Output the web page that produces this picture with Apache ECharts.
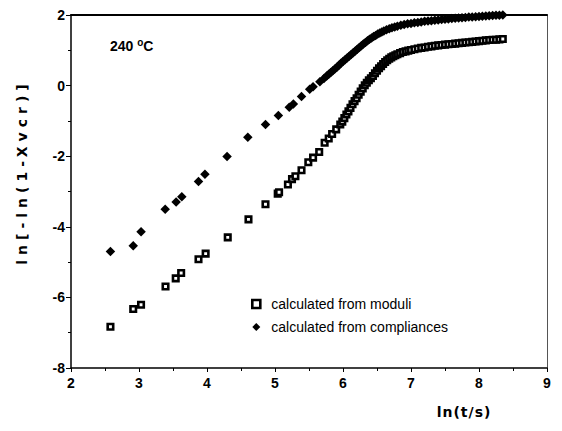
<!DOCTYPE html>
<html><head><meta charset="utf-8">
<script src="https://cdn.jsdelivr.net/npm/echarts@6/dist/echarts.min.js"></script>
<style>html,body{margin:0;padding:0;background:#fff}#c{width:562px;height:431px}</style>
</head><body><div id="c"></div>
<script>
const xTicks = [2,3,4,5,6,7,8,9];
const yTicks = [-8,-6,-4,-2,0,2];
const moduliX = [2.58,2.915,3.03,3.39,3.54,3.62,3.875,3.98,4.305,4.61,4.86,5.04,5.06,5.19,5.25,5.30,5.39,5.49,5.56,5.65,5.73,5.79,5.84,5.90,5.96,
  5.99,6.02,6.05,6.08,6.11,6.14,6.17,6.20,6.23,6.26,6.29,6.32,6.35,6.38,6.41,6.44,6.47,6.50,6.53,6.56,6.59,6.62,6.65,6.68,6.71,6.74,6.77,6.80,
  6.84,6.88,6.92,6.96,7.00,7.05,7.10,7.15,7.20,7.25,7.30,7.35,7.40,7.45,7.50,7.55,7.60,7.65,7.70,7.75,7.80,7.85,7.90,7.95,8.00,8.05,8.10,8.15,8.20,8.25,8.30,8.35];
const moduliY = [-6.83,-6.33,-6.21,-5.69,-5.46,-5.31,-4.92,-4.76,-4.30,-3.79,-3.36,-3.06,-3.02,-2.80,-2.65,-2.57,-2.40,-2.17,-2.04,-1.88,-1.62,-1.50,-1.37,-1.24,-1.10,
  -1.02,-0.92,-0.82,-0.73,-0.63,-0.53,-0.44,-0.36,-0.26,-0.17,-0.08,0.01,0.08,0.15,0.21,0.27,0.35,0.42,0.49,0.55,0.61,0.67,0.72,0.76,0.80,0.83,0.86,0.89,
  0.92,0.95,0.97,0.99,1.01,1.03,1.05,1.07,1.08,1.10,1.11,1.13,1.14,1.15,1.16,1.17,1.18,1.19,1.20,1.21,1.22,1.23,1.24,1.25,1.26,1.27,1.28,1.29,1.30,1.30,1.31,1.32];
const compX = [2.58,2.915,3.03,3.385,3.546,3.63,3.875,3.97,4.295,4.60,4.86,5.05,5.21,5.27,5.39,5.51,5.56,5.66,5.72,5.76,
  5.79,5.82,5.85,5.88,5.91,5.94,5.97,6.00,6.03,6.06,6.09,6.12,6.15,6.18,6.21,6.24,6.27,6.30,6.33,6.36,6.39,6.42,6.45,6.48,6.51,6.54,6.57,6.60,
  6.64,6.68,6.72,6.76,6.80,6.85,6.90,6.95,7.00,7.05,7.10,7.15,7.20,7.25,7.30,7.35,7.40,7.45,7.50,7.55,7.60,7.65,7.70,7.75,7.80,7.85,7.90,7.95,8.00,8.05,8.10,8.15,8.20,8.25,8.30,8.35];
const compY = [-4.70,-4.54,-4.14,-3.50,-3.30,-3.15,-2.72,-2.51,-2.01,-1.46,-1.10,-0.85,-0.61,-0.52,-0.31,-0.10,-0.03,0.11,0.20,0.27,
  0.32,0.37,0.42,0.47,0.52,0.58,0.63,0.68,0.73,0.78,0.83,0.88,0.93,0.98,1.03,1.08,1.13,1.18,1.22,1.27,1.31,1.35,1.39,1.42,1.46,1.49,1.52,1.55,
  1.58,1.61,1.64,1.66,1.68,1.71,1.73,1.75,1.76,1.78,1.79,1.80,1.82,1.83,1.84,1.85,1.86,1.87,1.88,1.89,1.90,1.91,1.915,1.92,1.93,1.94,1.945,1.95,1.96,1.965,1.97,1.98,1.985,1.99,1.995,2.00];
const seriesNames = ['calculated from moduli','calculated from compliances'];
const yName = 'ln[-ln(1-Xvcr)]';
const xName = 'ln(t/s)';

const chart = echarts.init(document.getElementById('c'), null, {renderer:'svg'});
const F = 'Liberation Sans, Arial, sans-serif';
const lbl = {color:'#000', fontFamily:F, fontWeight:'bold', fontSize:14};
chart.setOption({
  animation:false,
  backgroundColor:'#fff',
  grid:{left:71, top:15, right:15, bottom:63},
  xAxis:[{type:'value', min:2, max:9, interval:1, position:'bottom',
    axisLine:{onZero:false, lineStyle:{color:'#000', width:1.5}},
    axisTick:{show:true, inside:false, length:4, lineStyle:{color:'#000'}},
    minorTick:{show:true, splitNumber:2, length:3, lineStyle:{color:'#000'}},
    splitLine:{show:false}, axisLabel:Object.assign({}, lbl, {margin:8})},
    {type:'value', min:2, max:9, position:'top', axisLine:{onZero:false, lineStyle:{color:'#000', width:2}}, axisTick:{show:false}, axisLabel:{show:false}, splitLine:{show:false}}],
  yAxis:[{type:'value', min:-8, max:2, interval:2, position:'left',
    axisLine:{onZero:false, lineStyle:{color:'#000', width:1.5}},
    axisTick:{show:true, length:5, lineStyle:{color:'#000'}},
    minorTick:{show:true, splitNumber:2, length:3, lineStyle:{color:'#000'}},
    splitLine:{show:false}, axisLabel:Object.assign({}, lbl, {margin:6})},
    {type:'value', min:-8, max:2, position:'right', axisLine:{onZero:false, lineStyle:{color:'#555', width:1}}, axisTick:{show:false}, axisLabel:{show:false}, splitLine:{show:false}}],
  legend:{orient:'vertical', left:246, top:291, itemGap:7, itemWidth:8, itemHeight:8,
    textStyle:{fontFamily:F, fontSize:14, color:'#000', lineHeight:16, padding:[0,0,0,6]},
    data:[{name:seriesNames[0], icon:'rect', itemStyle:{color:'#fff', borderColor:'#000', borderWidth:2.6}},
          {name:seriesNames[1], icon:'diamond', itemStyle:{color:'#000'}}]},
  series:[
    {name:seriesNames[0], type:'scatter', symbol:'rect', symbolSize:5.5,
     itemStyle:{color:'#fff', borderColor:'#000', borderWidth:2.6, opacity:1},
     data:moduliX.map((x,i)=>[x, moduliY[i]])},
    {name:seriesNames[1], type:'scatter', symbol:'diamond', symbolSize:9.5,
     itemStyle:{color:'#000', opacity:1},
     data:compX.map((x,i)=>[x, compY[i]])}
  ],
  graphic:[
    {type:'text', left:110, top:37, style:{rich:{a:{fontFamily:F, fontWeight:'bold', fontSize:14, fill:'#000'}, s:{fontFamily:F, fontWeight:'bold', fontSize:10, fill:'#000', verticalAlign:'top', padding:[0,0,8,0]}}, text:'{a|240 }{s|o}{a|C}'}},
    {type:'text', x:22, y:172, rotation:Math.PI/2, style:{text:yName, fontFamily:'DejaVu Sans', fontWeight:'bold', fontSize:14, fill:'#000', align:'center', verticalAlign:'middle'}},
    {type:'text', x:464, y:412, style:{text:xName, fontFamily:'DejaVu Sans', fontWeight:'bold', fontSize:14, fill:'#000', align:'center', verticalAlign:'middle'}}
  ]
});
// widen the letter spacing of the axis titles, as in the original typesetting
document.querySelectorAll('#c svg text').forEach(t => {
  if (t.textContent === yName) { t.setAttribute('letter-spacing', '5'); }
  if (t.textContent === xName) { t.setAttribute('letter-spacing', '1'); }
});
</script></body></html>
